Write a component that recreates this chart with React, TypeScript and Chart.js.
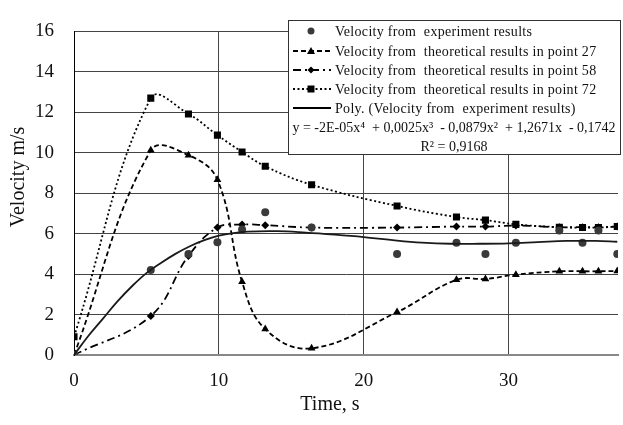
import React, { useEffect, useRef } from 'react';
import { Chart, registerables } from 'chart.js';

Chart.register(...registerables);

// ---- data ----
const timeS = [0, 5.3, 7.9, 9.9, 11.6, 13.2, 16.4, 22.3, 26.4, 28.4, 30.5, 33.5, 35.1, 36.2, 37.5];
const experiment = [0, 4.2, 5.0, 5.57, 6.2, 7.06, 6.3, 5.0, 5.55, 5.0, 5.55, 6.16, 5.55, 6.16, 5.0];
const point27 = [0, 10.12, 9.88, 8.66, 3.62, 1.28, 0.33, 2.12, 3.72, 3.76, 3.97, 4.14, 4.14, 4.14, 4.15];
const point58 = [0, 1.93, 4.9, 6.3, 6.45, 6.42, 6.3, 6.3, 6.35, 6.35, 6.4, 6.32, 6.32, 6.32, 6.35];
const point72 = [0.9, 12.7, 11.92, 10.87, 10.04, 9.33, 8.42, 7.37, 6.82, 6.67, 6.46, 6.32, 6.3, 6.3, 6.35];

const trendX = [0, 1, 2, 3, 4, 5, 6, 7, 8, 9, 10, 11, 12, 14, 16, 18, 20, 22, 24, 26, 28, 30, 32, 34, 36, 37.5];
const trendY = [0, 0.95, 1.8, 2.65, 3.4, 4.05, 4.55, 5.0, 5.38, 5.68, 5.9, 6.03, 6.1, 6.12, 6.05, 5.95, 5.83, 5.68, 5.56, 5.5, 5.5, 5.52, 5.58, 5.64, 5.64, 5.6];

const xTicks = [0, 10, 20, 30];
const yTicks = [0, 2, 4, 6, 8, 10, 12, 14, 16];

const legendLabels = [
  'Velocity from  experiment results',
  'Velocity from  theoretical results in point 27',
  'Velocity from  theoretical results in point 58',
  'Velocity from  theoretical results in point 72',
  'Poly. (Velocity from  experiment results)',
];
const equationText = 'y = -2E-05x\u2074  + 0,0025x\u00b3  - 0,0879x\u00b2  + 1,2671x  - 0,1742';
const r2Text = 'R\u00b2 = 0,9168';
const xTitle = 'Time, s';
const yTitle = 'Velocity m/s';

const FONT = '"Liberation Serif", "Times New Roman", serif';

const toXY = (ys: number[]) => ys.map((y, i) => ({ x: timeS[i], y }));

function drawMarker(ctx: CanvasRenderingContext2D, kind: string, x: number, y: number) {
  ctx.save();
  ctx.fillStyle = kind === 'circle' ? '#3a3a3a' : '#000';
  ctx.beginPath();
  if (kind === 'circle') {
    ctx.arc(x, y, 3.5, 0, Math.PI * 2);
  } else if (kind === 'triangle') {
    ctx.moveTo(x, y - 4);
    ctx.lineTo(x + 4, y + 3);
    ctx.lineTo(x - 4, y + 3);
    ctx.closePath();
  } else if (kind === 'diamond') {
    ctx.moveTo(x, y - 3.5);
    ctx.lineTo(x + 3.5, y);
    ctx.lineTo(x, y + 3.5);
    ctx.lineTo(x - 3.5, y);
    ctx.closePath();
  } else if (kind === 'square') {
    ctx.rect(x - 3.5, y - 3.5, 7, 7);
  }
  ctx.fill();
  ctx.restore();
}

const overlayPlugin = {
  id: 'overlay',
  afterDraw(chart: any) {
    const ctx: any = chart.ctx;
    ctx.save();
    // axis titles
    ctx.fillStyle = '#111';
    ctx.font = `20px ${FONT}`;
    ctx.textAlign = 'center';
    ctx.textBaseline = 'middle';
    ctx.fillText(xTitle, 330, 405);
    ctx.save();
    ctx.translate(19, 177);
    ctx.rotate(-Math.PI / 2);
    ctx.fillText(yTitle, 0, 0);
    ctx.restore();

    // legend box
    const bx = 288, by = 20, bw = 332, bh = 134;
    ctx.fillStyle = '#fff';
    ctx.fillRect(bx, by, bw, bh);
    ctx.strokeStyle = '#333';
    ctx.lineWidth = 1;
    ctx.strokeRect(bx + 0.5, by + 0.5, bw, bh);

    const rows = [31, 51, 70, 89, 108];
    const markers = ['circle', 'triangle', 'diamond', 'square', ''];
    const dashes: (number[] | null)[] = [null, [5, 3], [8, 4, 2, 4], [2, 2.5], []];
    rows.forEach((ry, i) => {
      const d = dashes[i];
      if (d) {
        ctx.save();
        ctx.strokeStyle = '#000';
        ctx.lineWidth = 1.8;
        ctx.setLineDash(d);
        ctx.beginPath();
        ctx.moveTo(293, ry);
        ctx.lineTo(331, ry);
        ctx.stroke();
        ctx.restore();
      }
      if (markers[i]) drawMarker(ctx, markers[i], 311, ry);
      ctx.save();
      ctx.fillStyle = '#111';
      ctx.font = `14px ${FONT}`;
      ctx.letterSpacing = '0.3px';
      ctx.textAlign = 'left';
      ctx.textBaseline = 'middle';
      ctx.fillText(legendLabels[i], 335, ry + 1);
      ctx.restore();
    });
    ctx.fillStyle = '#111';
    ctx.font = `14px ${FONT}`;
    ctx.textAlign = 'center';
    ctx.textBaseline = 'middle';
    ctx.fillText(equationText, 454, 128);
    ctx.fillText(r2Text, 454, 147);
    ctx.restore();
  },
};

export default function App() {
  const ref = useRef<HTMLCanvasElement | null>(null);
  useEffect(() => {
    if (!ref.current) return;
    const common = { tension: 0.4, borderColor: '#000', pointBorderWidth: 0, fill: false };
    const chart = new Chart(ref.current, {
      type: 'scatter',
      data: {
        datasets: [
          {
            label: legendLabels[4],
            data: trendX.map((x, i) => ({ x, y: trendY[i] })),
            showLine: true,
            ...common,
            borderColor: '#1a1a1a',
            borderWidth: 1.8,
            pointRadius: 0,
          },
          {
            label: legendLabels[0],
            data: toXY(experiment),
            showLine: false,
            pointStyle: 'circle',
            pointRadius: 4,
            pointBackgroundColor: '#3a3a3a',
            pointBorderColor: '#3a3a3a',
            pointBorderWidth: 0,
          },
          {
            label: legendLabels[1],
            data: toXY(point27),
            showLine: true,
            ...common,
            borderWidth: 1.8,
            borderDash: [5, 3],
            pointStyle: 'triangle',
            pointRadius: 4.5,
            pointBackgroundColor: '#000',
            pointBorderColor: '#000',
          },
          {
            label: legendLabels[2],
            data: toXY(point58),
            showLine: true,
            ...common,
            borderWidth: 1.8,
            borderDash: [8, 4, 2, 4],
            pointStyle: 'rectRot',
            pointRadius: 4,
            pointBackgroundColor: '#000',
            pointBorderColor: '#000',
          },
          {
            label: legendLabels[3],
            data: toXY(point72),
            showLine: true,
            ...common,
            borderWidth: 1.8,
            borderDash: [2, 2.5],
            pointStyle: 'rect',
            pointRadius: 5,
            pointBackgroundColor: '#000',
            pointBorderColor: '#000',
          },
        ],
      },
      options: {
        animation: false,
        responsive: false,
        maintainAspectRatio: false,
        layout: { padding: { top: 15, right: 1, left: 0, bottom: 0 } },
        plugins: { legend: { display: false }, tooltip: { enabled: false } },
        scales: {
          x: {
            type: 'linear',
            min: 0,
            max: 37.55,
            afterBuildTicks: (s: any) => {
              s.ticks = xTicks.map((v) => ({ value: v }));
            },
            afterFit: (s: any) => {
              s.height = 70;
            },
            grid: { color: '#444', lineWidth: 1, drawTicks: false },
            border: { color: '#888', width: 2 },
            ticks: { padding: 15, color: '#111', font: { family: FONT, size: 19 } },
          },
          y: {
            min: 0,
            max: 16,
            afterBuildTicks: (s: any) => {
              s.ticks = yTicks.map((v) => ({ value: v }));
            },
            afterFit: (s: any) => {
              s.width = 74;
            },
            grid: { color: '#444', lineWidth: 1, drawTicks: false },
            border: { color: '#000', width: 1 },
            ticks: { padding: 20, color: '#111', font: { family: FONT, size: 19 } },
          },
        },
      },
      plugins: [overlayPlugin],
    } as any);
    return () => chart.destroy();
  }, []);
  return (
    <div style={{ position: 'fixed', left: 0, top: 0, width: 623, height: 425, background: '#fff' }}>
      <canvas ref={ref} width={623} height={425} style={{ display: 'block', width: 623, height: 425 }} />
    </div>
  );
}
